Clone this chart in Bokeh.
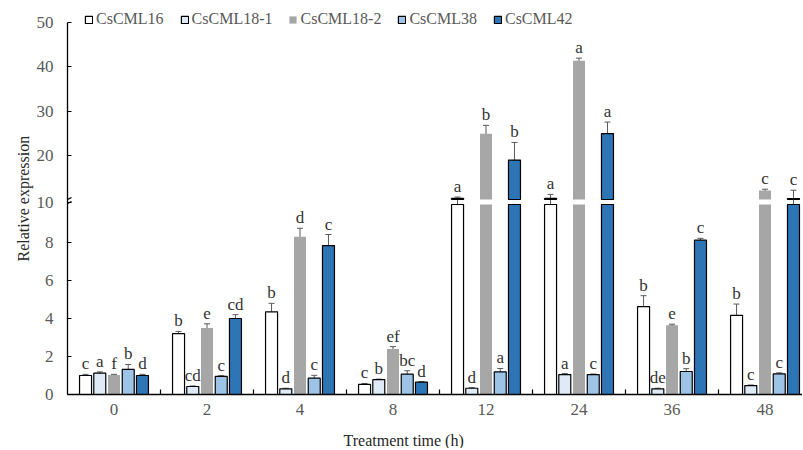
import numpy as np
from bokeh.plotting import figure
from bokeh.models import (ColumnDataSource, Range1d, FixedTicker, Whisker, TeeHead,
                          LabelSet, Legend, LegendItem, Arrow, Title)
from bokeh.embed import file_html
from bokeh.resources import INLINE

# ---------------- data ----------------
times = ["0", "2", "4", "8", "12", "24", "36", "48"]
series = ["CsCML16", "CsCML18-1", "CsCML18-2", "CsCML38", "CsCML42"]

cml16 = [1.0, 3.2, 4.35, 0.53, 10.25, 10.25, 4.63, 4.16]
err16 = [0.06, 0.12, 0.45, 0.05, 0.3, 0.9, 0.57, 0.6]
let16 = ["c", "b", "b", "c", "a", "a", "b", "b"]

cml18_1 = [1.12, 0.42, 0.3, 0.78, 0.33, 1.05, 0.3, 0.47]
err18_1 = [0.07, 0.03, 0.03, 0.03, 0.03, 0.05, 0.03, 0.03]
let18_1 = ["a", "cd", "d", "b", "d", "a", "de", "c"]

cml18_2 = [1.02, 3.5, 8.3, 2.4, 24.85, 41.35, 3.65, 12.03]
err18_2 = [0.04, 0.22, 0.45, 0.12, 1.9, 0.6, 0.05, 0.3]
let18_2 = ["f", "e", "d", "ef", "b", "a", "e", "c"]

cml38 = [1.32, 0.95, 0.86, 1.07, 1.19, 1.05, 1.21, 1.09]
err38 = [0.26, 0.04, 0.15, 0.18, 0.18, 0.03, 0.15, 0.05]
let38 = ["b", "c", "c", "bc", "a", "c", "b", "c"]

cml42 = [1.0, 4.0, 7.84, 0.65, 18.9, 24.9, 8.12, 10.2]
err42 = [0.06, 0.2, 0.58, 0.03, 4.0, 2.6, 0.1, 1.9]
let42 = ["d", "cd", "c", "d", "b", "a", "c", "c"]

lower_ticks = [0, 2, 4, 6, 8]
upper_ticks = [20, 30, 40, 50]
break_value = 10

fills = ["#FFFFFF", "#DEEBF7", "#A6A6A6", "#9DC3E6", "#2E75B6"]
lines = ["black", "black", None, "black", "black"]

values = [cml16, cml18_1, cml18_2, cml38, cml42]
errors = [err16, err18_1, err18_2, err38, err42]
letters = [let16, let18_1, let18_2, let38, let42]

FONT = "Liberation Serif"

# ---------------- broken-axis scale ----------------
LOW = 19.0      # units per value below the break
GAP = 5.0       # empty band for the break
HIGH = 4.425    # units per value above the break


def tr(v):
    v = float(v)
    if v <= break_value:
        return v * LOW
    return break_value * LOW + GAP + (v - break_value) * HIGH


low_top = break_value * LOW
up_bot = low_top + GAP

p = figure(width=802, height=448, x_range=Range1d(-0.5, 7.403), y_range=Range1d(0, 385),
           output_backend="svg", toolbar_location=None,
           min_border_left=67, min_border_right=0, min_border_top=9, min_border_bottom=54)
p.outline_line_color = None
p.xgrid.visible = False
p.ygrid.visible = False
p.background_fill_color = "white"

pitch = 0.153
bw = 0.129
idx = np.arange(len(times))
legend_items = []
for k, name in enumerate(series):
    xs = idx + (k - 2) * pitch
    v = values[k]
    e = errors[k]
    lo_top = [tr(min(a, break_value)) for a in v]
    src_lo = ColumnDataSource(dict(x=xs, top=lo_top, bottom=[0] * len(v)))
    r = p.vbar(x="x", top="top", bottom="bottom", width=bw, source=src_lo,
               fill_color=fills[k], line_color=lines[k], line_width=1.2)
    legend_items.append(LegendItem(label=name, renderers=[r]))
    up_x = [x for x, a in zip(xs, v) if a > break_value]
    up_t = [tr(a) for a in v if a > break_value]
    if up_x:
        src_up = ColumnDataSource(dict(x=up_x, top=up_t, bottom=[up_bot] * len(up_x)))
        p.vbar(x="x", top="top", bottom="bottom", width=bw, source=src_up,
               fill_color=fills[k], line_color=lines[k], line_width=1.2)
    src_e = ColumnDataSource(dict(x=xs, up=[tr(a + b) for a, b in zip(v, e)],
                                  lo=[tr(a - b) for a, b in zip(v, e)], txt=letters[k]))
    w = Whisker(source=src_e, base="x", upper="up", lower="lo", dimension="height",
                line_color="#595959", line_width=1,
                upper_head=TeeHead(size=6, line_color="#595959", line_width=1),
                lower_head=TeeHead(size=6, line_color="#595959", line_width=1))
    p.add_layout(w)
    ls = LabelSet(source=src_e, x="x", y="up", text="txt", y_offset=5,
                  text_align="center", text_baseline="alphabetic",
                  text_font=FONT, text_font_size="17px", text_color="#333333")
    p.add_layout(ls)

# axes
xa = p.xaxis[0]
xa.ticker = FixedTicker(ticks=list(idx), minor_ticks=[i + 0.5 for i in range(len(times) - 1)])
xa.major_label_overrides = {int(i): t for i, t in enumerate(times)}
xa.major_tick_in = 0
xa.major_tick_out = 0
xa.minor_tick_in = 5
xa.minor_tick_out = 0
xa.axis_line_color = "black"
xa.axis_line_width = 1.3
xa.minor_tick_line_color = "black"
xa.minor_tick_line_width = 1.2
xa.major_label_standoff = 9
xa.major_label_text_font = FONT
xa.major_label_text_font_size = "17px"
xa.major_label_text_color = "#595959"
# thin spacer between the tick labels and the title
xa.axis_label = " "
xa.axis_label_text_font_size = "1px"
xa.axis_label_standoff = 8

ya = p.yaxis[0]
tick_vals = [round(tr(t), 3) for t in lower_ticks] + [round((low_top + up_bot) / 2, 3)] + \
            [round(tr(t), 3) for t in upper_ticks]
tick_text = [str(t) for t in lower_ticks] + [str(break_value)] + [str(t) for t in upper_ticks]
ya.ticker = FixedTicker(ticks=tick_vals)
ya.major_label_overrides = dict(zip(tick_vals, tick_text))
ya.bounds = (0, round(tr(upper_ticks[-1]), 3))
ya.major_tick_in = 4
ya.major_tick_out = 0
ya.minor_tick_in = 0
ya.minor_tick_out = 0
ya.axis_line_color = "black"
ya.axis_line_width = 1.3
ya.major_tick_line_color = "black"
ya.major_tick_line_width = 1.2
ya.major_label_standoff = 14
ya.major_label_text_font = FONT
ya.major_label_text_font_size = "17px"
ya.major_label_text_color = "#595959"

# break marks on the y axis
for dy in (-2.0, 2.0):
    p.add_layout(Arrow(end=None, x_start=-0.543, y_start=low_top + 1 + dy,
                       x_end=-0.457, y_end=low_top + 5 + dy,
                       line_color="black", line_width=1.3))

# axis titles
p.add_layout(Title(text="Treatment time (h)", align="left", offset=276, standoff=0,
                   text_font=FONT, text_font_size="16px", text_font_style="normal",
                   text_color="#262626"), "below")
p.add_layout(Title(text="Relative expression", align="left", offset=133, standoff=4,
                   text_font=FONT, text_font_size="16px", text_font_style="normal",
                   text_color="#262626"), "left")

legend = Legend(items=legend_items, orientation="horizontal", location=(17, 366),
                glyph_width=9, glyph_height=9, label_standoff=3, spacing=16,
                padding=0, margin=0, border_line_color=None, background_fill_alpha=0,
                label_height=18, label_text_font=FONT,
                label_text_font_size="16px", label_text_color="#595959")
p.add_layout(legend)

open("out.html", "w").write(file_html(p, INLINE))
